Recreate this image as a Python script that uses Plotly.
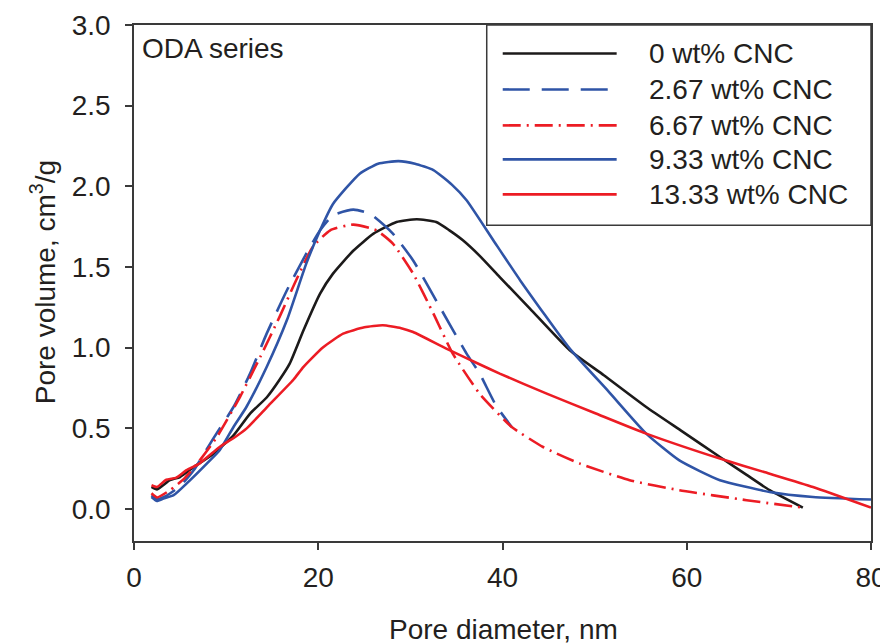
import plotly.graph_objects as go

# ---- data ----
x_0 = [1.9, 2.5, 3.9, 5.0, 6.4, 8.6, 10.8, 12.6, 14.4, 15.8, 16.9, 18.4, 20.2, 21.6, 23.8, 26.0, 28.5,
       30.7, 32.8, 34.2, 35.7, 37.5, 39.7, 43.0, 47.3, 51.0, 55.6, 59.5, 63.6, 66.5, 69.0, 72.6]
y_0 = [0.135, 0.12, 0.177, 0.197, 0.255, 0.34, 0.455, 0.59, 0.69, 0.80, 0.90, 1.107, 1.334, 1.458, 1.60,
       1.706, 1.778, 1.795, 1.778, 1.728, 1.665, 1.57, 1.437, 1.24, 0.983, 0.828, 0.631, 0.48, 0.321, 0.21,
       0.115, 0.007]

x_267 = [1.9, 2.5, 3.5, 5.0, 6.5, 8.6, 10.8, 12.6, 14.4, 16.6, 18.7, 20.2, 21.6, 23.8, 25.6, 28.1,
         30.3, 33.2, 36.1, 37.5, 39.3, 41.0]
y_267 = [0.084, 0.06, 0.08, 0.14, 0.24, 0.435, 0.631, 0.838, 1.086, 1.355, 1.582, 1.727, 1.82, 1.855,
         1.83, 1.706, 1.54, 1.251, 0.962, 0.84, 0.64, 0.507]

x_667 = [1.9, 2.5, 3.9, 5.5, 7.0, 9.0, 11.5, 13.7, 15.8, 17.6, 19.4, 21.3, 23.8, 26.3, 28.1, 30.3,
         32.5, 34.6, 37.5, 39.0, 41.0, 44.4, 48.4, 53.8, 59.2, 66.5, 72.6]
y_667 = [0.096, 0.07, 0.115, 0.19, 0.29, 0.445, 0.693, 0.941, 1.19, 1.417, 1.623, 1.727, 1.762, 1.727,
         1.644, 1.458, 1.21, 0.962, 0.714, 0.621, 0.507, 0.383, 0.28, 0.177, 0.115, 0.053, 0.007]

x_933 = [1.9, 2.5, 3.2, 4.3, 5.7, 7.9, 9.3, 10.8, 12.2, 14.4, 16.6, 18.7, 20.2, 21.6, 24.5, 26.5,
         28.7, 30.5, 32.5, 34.5, 36.1, 39.0, 42.0, 47.3, 51.5, 55.6, 59.2, 63.6, 69.0, 73.7, 80.0]
y_933 = [0.073, 0.048, 0.063, 0.084, 0.156, 0.28, 0.363, 0.507, 0.631, 0.879, 1.17, 1.52, 1.727, 1.89,
         2.078, 2.14, 2.156, 2.14, 2.10, 2.01, 1.913, 1.665, 1.41, 0.993, 0.728, 0.466, 0.30, 0.177,
         0.104, 0.073, 0.057]

x_1333 = [1.9, 2.5, 3.5, 4.6, 5.7, 7.1, 9.3, 11.1, 12.2, 14.6, 17.3, 18.4, 20.5, 22.7, 25.0, 27.0,
          29.0, 30.3, 33.9, 37.5, 39.7, 44.8, 50.0, 55.6, 63.6, 68.5, 73.7, 80.0]
y_1333 = [0.146, 0.135, 0.18, 0.193, 0.239, 0.28, 0.383, 0.45, 0.497, 0.64, 0.80, 0.88, 1.0, 1.086,
          1.125, 1.138, 1.12, 1.096, 0.993, 0.896, 0.838, 0.714, 0.594, 0.466, 0.311, 0.226, 0.135, 0.007]

series_names = ["0 wt% CNC", "2.67 wt% CNC", "6.67 wt% CNC", "9.33 wt% CNC", "13.33 wt% CNC"]
x_ticks = [0, 20, 40, 60, 80]
y_ticks = [0.0, 0.5, 1.0, 1.5, 2.0, 2.5, 3.0]
x_title = "Pore diameter, nm"
y_title = "Pore volume, cm<sup>3</sup>/g"
panel_label = "ODA series"

# ---- styles ----
BLACK = "#1c1a1a"
BLUE = "#2f54a6"
RED = "#ec1c24"
TXT = "#231f20"
FONT = "Liberation Sans, Arial, sans-serif"
styles = [
    dict(color=BLACK, dash="solid"),
    dict(color=BLUE, dash="27px,12px"),
    dict(color=RED, dash="18px,6px,2px,6px"),
    dict(color=BLUE, dash="solid"),
    dict(color=RED, dash="solid"),
]
data = [(x_0, y_0), (x_267, y_267), (x_667, y_667), (x_933, y_933), (x_1333, y_1333)]

fig = go.Figure()
for (xs, ys), name, st in zip(data, series_names, styles):
    fig.add_trace(go.Scatter(x=xs, y=ys, mode="lines", name=name,
                             line=dict(color=st["color"], dash=st["dash"], width=2.6, shape="spline",
                                       smoothing=0.5),
                             showlegend=False))

# manual legend (box, sample lines, labels)
L_X0, L_X1, L_Y0, L_Y1 = 0.4786, 1.0, 0.612, 1.0
fig.add_shape(type="rect", xref="paper", yref="paper", x0=L_X0, x1=L_X1, y0=L_Y0, y1=L_Y1,
              line=dict(color="#3a3a3a", width=1.5), fillcolor="white", layer="above")
row_y = [0.9448, 0.8751, 0.8054, 0.7396, 0.6718]
for ry, name, st in zip(row_y, series_names, styles):
    fig.add_shape(type="line", xref="paper", yref="paper", x0=0.5003, x1=0.6549, y0=ry, y1=ry,
                  line=dict(color=st["color"], dash=st["dash"], width=2.6), layer="above")
    fig.add_annotation(xref="paper", yref="paper", x=0.6956, y=ry, text=name, showarrow=False,
                       xanchor="left", yanchor="middle", font=dict(size=28, color=TXT, family=FONT))

fig.add_annotation(xref="paper", yref="paper", x=0.0088, y=0.9545, text=panel_label, showarrow=False,
                   xanchor="left", yanchor="middle", font=dict(size=28, color=TXT, family=FONT))

# axis titles
fig.add_annotation(xref="paper", yref="paper", x=0.5017, y=-0.1723, text=x_title, showarrow=False,
                   xanchor="center", yanchor="middle", font=dict(size=28, color=TXT, family=FONT))
fig.add_annotation(xref="paper", yref="paper", x=-0.1234, y=0.5015, text=y_title, showarrow=False,
                   textangle=-90, xanchor="center", yanchor="middle",
                   font=dict(size=28, color=TXT, family=FONT))

axis_common = dict(showgrid=False, zeroline=False, showline=True, linecolor="#3a3a3a", linewidth=1.5,
                   mirror=True, ticks="outside", ticklen=7, tickwidth=1.5, tickcolor="#3a3a3a",
                   automargin=False, tickfont=dict(size=28, color=TXT, family=FONT))
fig.update_xaxes(range=[0, 80], tickvals=x_ticks, ticktext=[str(v) for v in x_ticks],
                 ticklabelstandoff=4, **axis_common)
fig.update_yaxes(range=[-0.2, 3.0], tickvals=y_ticks, ticktext=[f"{v:.1f}" for v in y_ticks],
                 ticklabelstandoff=9, **axis_common)
# the page adds an 8px body margin, so the figure is 8px smaller and margins are shifted
fig.update_layout(width=880, height=636, margin=dict(l=126, r=16.5, t=16.5, b=103, autoexpand=False),
                  paper_bgcolor="white", plot_bgcolor="white", font=dict(family=FONT, color=TXT))
fig.write_html("out.html")
